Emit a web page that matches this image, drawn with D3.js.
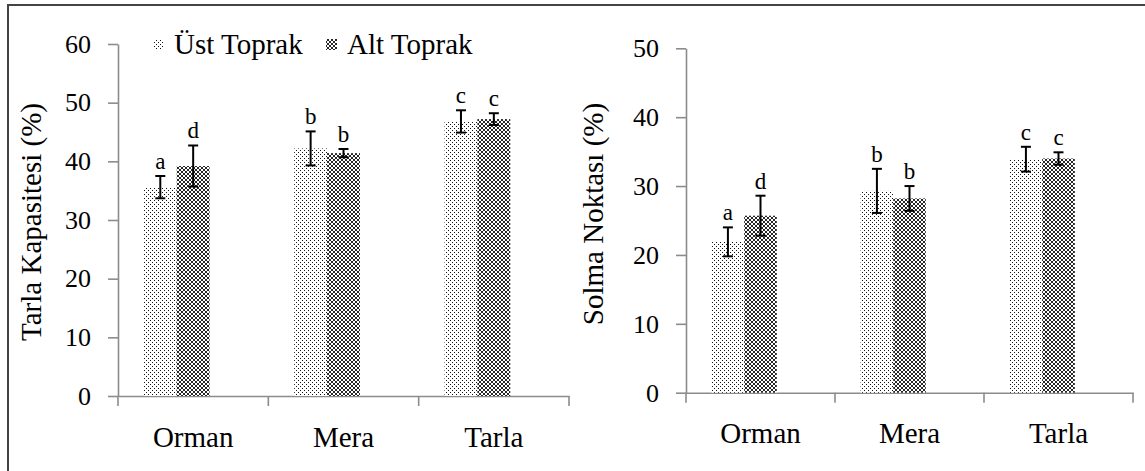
<!DOCTYPE html>
<html>
<head>
<meta charset="utf-8">
<script src="https://cdn.jsdelivr.net/npm/d3@7"></script>
<style>
  body { margin: 0; background: #fff; }
  svg text { font-family: "Liberation Serif", "Times New Roman", serif !important; fill: #000; }
</style>
</head>
<body>
<script>
var categories = ['Orman', 'Mera', 'Tarla'];
var seriesNames = ['Üst Toprak', 'Alt Toprak'];

// Tarla Kapasitesi (%)
var tkUst = [35.6, 42.2, 46.8];
var tkUstErr = [1.9, 2.9, 1.9];
var tkAlt = [39.2, 41.4, 47.2];
var tkAltErr = [3.5, 0.7, 1.0];
var tkTicks = [0, 10, 20, 30, 40, 50, 60];

// Solma Noktası (%)
var snUst = [21.9, 29.3, 33.9];
var snUstErr = [2.1, 3.2, 1.8];
var snAlt = [25.7, 28.2, 34.0];
var snAltErr = [2.9, 1.8, 0.9];
var snTicks = [0, 10, 20, 30, 40, 50];

var ustLetters = ['a', 'b', 'c'];
var altLetters = ['d', 'b', 'c'];

var SERIF = '"Liberation Serif", "Times New Roman", serif';

var svg = d3.select('body').append('svg')
  .attr('width', 1145)
  .attr('height', 471);

// fill patterns like the excel ones
var defs = svg.append('defs');
function makePattern(id, size, cells, colour) {
  var p = defs.append('pattern').attr('id', id)
    .attr('width', size).attr('height', size).attr('patternUnits', 'userSpaceOnUse');
  p.append('rect').attr('width', size).attr('height', size).attr('fill', '#fff');
  cells.forEach(function (d) {
    p.append('rect').attr('x', d[0]).attr('y', d[1]).attr('width', 1).attr('height', 1)
      .attr('fill', colour).attr('shape-rendering', 'crispEdges');
  });
}
makePattern('pUst', 4, [[0, 0], [2, 2]], '#111');
makePattern('pAlt', 4, [[0, 0], [1, 1], [2, 2], [3, 3], [3, 0], [2, 1], [1, 2], [0, 3]], '#262626');
var fills = ['url(#pUst)', 'url(#pAlt)'];

// frame
svg.append('path').attr('d', 'M8,471 V5 H1145')
  .attr('fill', 'none').attr('stroke', '#444').attr('stroke-width', 2);

function drawChart(opt) {
  var g = svg.append('g').attr('transform', 'translate(' + opt.left + ',0)');
  var w = opt.width;

  var x = d3.scaleBand().domain(categories).range([0, w])
    .paddingInner(0.344).paddingOuter(0.172);
  // third slot stays empty, same as the original sheet
  var x1 = d3.scaleBand().domain(seriesNames.concat(['-'])).range([0, x.bandwidth()]);
  var y = d3.scaleLinear().domain([0, opt.max]).range([opt.bottom, opt.top]);

  var yAxis = g.append('g')
    .call(d3.axisLeft(y).tickValues(opt.ticks).tickSize(10).tickSizeOuter(0).tickPadding(17));
  yAxis.attr('font-family', null);
  yAxis.selectAll('path, line').attr('stroke', '#8c8c8c').attr('stroke-width', 1.6);
  yAxis.selectAll('text').style('font-size', '26px').style('font-family', SERIF);

  var xAxis = g.append('g').attr('transform', 'translate(0,' + opt.bottom + ')')
    .call(d3.axisBottom(x).tickSize(0).tickPadding(30));
  xAxis.attr('font-family', null);
  xAxis.select('.domain').attr('stroke', '#8c8c8c').attr('stroke-width', 1.6);
  xAxis.selectAll('text').style('font-size', '29px').style('font-family', SERIF);
  xAxis.selectAll('.bound').data(d3.range(categories.length + 1)).enter().append('line')
    .attr('x1', function (i) { return i * x.step(); })
    .attr('x2', function (i) { return i * x.step(); })
    .attr('y1', 0).attr('y2', 10)
    .attr('stroke', '#8c8c8c').attr('stroke-width', 1.6);

  var rows = [];
  categories.forEach(function (c, i) {
    rows.push({ cat: c, s: 0, v: opt.ust[i], e: opt.ustErr[i], l: ustLetters[i] });
    rows.push({ cat: c, s: 1, v: opt.alt[i], e: opt.altErr[i], l: altLetters[i] });
  });
  function cx(d) { return x(d.cat) + x1(seriesNames[d.s]) + x1.bandwidth() / 2; }

  g.selectAll('.bar').data(rows).enter().append('rect')
    .attr('x', function (d) { return x(d.cat) + x1(seriesNames[d.s]); })
    .attr('y', function (d) { return y(d.v); })
    .attr('width', x1.bandwidth())
    .attr('height', function (d) { return y(0) - y(d.v); })
    .attr('fill', function (d) { return fills[d.s]; });

  var err = g.selectAll('.err').data(rows).enter().append('g');
  err.append('line')
    .attr('x1', cx).attr('x2', cx)
    .attr('y1', function (d) { return y(d.v + d.e); })
    .attr('y2', function (d) { return y(d.v - d.e); });
  err.append('line')
    .attr('x1', function (d) { return cx(d) - 5; }).attr('x2', function (d) { return cx(d) + 5; })
    .attr('y1', function (d) { return y(d.v + d.e); })
    .attr('y2', function (d) { return y(d.v + d.e); });
  err.append('line')
    .attr('x1', function (d) { return cx(d) - 5; }).attr('x2', function (d) { return cx(d) + 5; })
    .attr('y1', function (d) { return y(d.v - d.e); })
    .attr('y2', function (d) { return y(d.v - d.e); });
  err.selectAll('line').attr('stroke', '#000').attr('stroke-width', 2);

  g.selectAll('.lbl').data(rows).enter().append('text')
    .attr('x', cx)
    .attr('y', function (d) { return y(d.v + d.e) - 7; })
    .attr('text-anchor', 'middle')
    .style('font-size', '23px')
    .text(function (d) { return d.l; });

  svg.append('text')
    .attr('transform', 'translate(' + opt.titleX + ',' + opt.titleY + ') rotate(-90)')
    .attr('text-anchor', 'middle')
    .style('font-size', '29px')
    .text(opt.title);
}

drawChart({
  left: 118, width: 451, top: 44, bottom: 396, max: 60, ticks: tkTicks,
  ust: tkUst, ustErr: tkUstErr, alt: tkAlt, altErr: tkAltErr,
  title: 'Tarla Kapasitesi (%)', titleX: 41, titleY: 222
});
drawChart({
  left: 686, width: 447, top: 48.3, bottom: 392.7, max: 50, ticks: snTicks,
  ust: snUst, ustErr: snUstErr, alt: snAlt, altErr: snAltErr,
  title: 'Solma Noktası (%)', titleX: 603, titleY: 214
});

// legend
var legend = svg.append('g');
var legendX = [153, 326];
seriesNames.forEach(function (s, i) {
  legend.append('rect').attr('x', legendX[i]).attr('y', 39)
    .attr('width', 11).attr('height', 11).attr('fill', fills[i]);
  legend.append('text').attr('x', legendX[i] + 21).attr('y', 54)
    .style('font-size', '29px').text(s);
});
</script>
</body>
</html>
